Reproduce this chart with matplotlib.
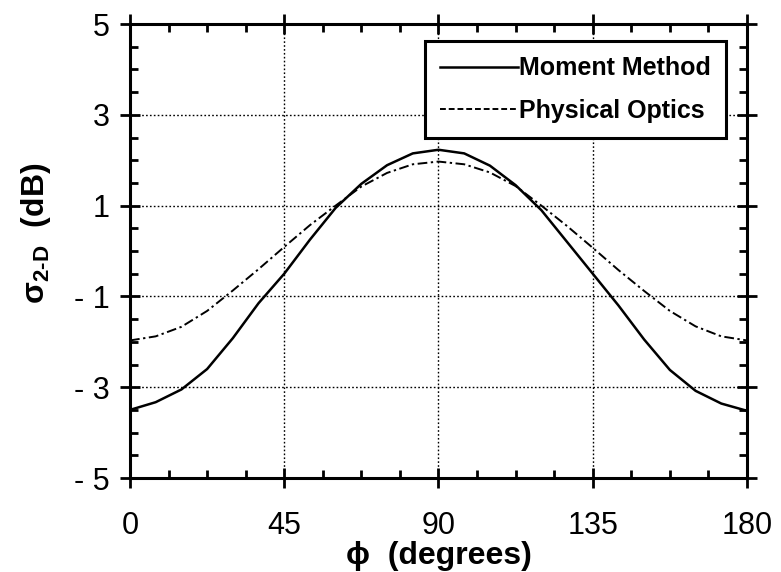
import numpy as np
import matplotlib
matplotlib.use("Agg")
import matplotlib.pyplot as plt
from matplotlib.lines import Line2D
from matplotlib.ticker import MultipleLocator

plt.rcParams['font.family'] = ['Liberation Sans', 'DejaVu Sans']
plt.rcParams['mathtext.fontset'] = 'custom'
plt.rcParams['mathtext.rm'] = 'Liberation Sans:bold'
plt.rcParams['mathtext.bf'] = 'Liberation Sans:bold'
plt.rcParams['mathtext.it'] = 'Liberation Sans:bold'

# angle in degrees
phi = [0, 7.5, 15, 22.5, 30, 37.5, 45, 52.5, 60, 67.5, 75, 82.5, 90,
       97.5, 105, 112.5, 120, 127.5, 135, 142.5, 150, 157.5, 165, 172.5, 180]

moment_method = [-3.50, -3.33, -3.05, -2.60, -1.92, -1.15, -0.50, 0.25, 0.95,
                 1.48, 1.89, 2.15, 2.23,
                 2.15, 1.88, 1.45, 0.90, 0.20, -0.50, -1.20, -1.95, -2.62,
                 -3.08, -3.36, -3.52]

physical_optics = [-1.97, -1.88, -1.67, -1.32, -0.87, -0.40, 0.09, 0.57, 1.00,
                   1.42, 1.72, 1.91, 1.97,
                   1.91, 1.73, 1.43, 1.00, 0.55, 0.07, -0.42, -0.88, -1.32,
                   -1.66, -1.88, -1.97]

x_ticks = [0, 45, 90, 135, 180]
x_tick_labels = ["0", "45", "90", "135", "180"]
y_ticks = [-5, -3, -1, 1, 3, 5]
y_tick_labels = ["- 5", "- 3", "- 1", "1", "3", "5"]

PO_STYLE = (0, (5, 1.8, 1.2, 1.8))

fig = plt.figure(figsize=(7.81, 5.72), dpi=100)
ax = fig.add_axes([130 / 781, 1 - 478 / 572, 617 / 781, 454 / 572])

ax.plot(phi, moment_method, color='black', lw=1.8)
ax.plot(phi, physical_optics, color='black', lw=1.4, linestyle=PO_STYLE)

ax.set_xlim(0, 180)
ax.set_ylim(-5, 5)
ax.set_xticks(x_ticks)
ax.set_xticklabels(x_tick_labels)
ax.set_yticks(y_ticks)
ax.set_yticklabels(y_tick_labels)
ax.xaxis.set_minor_locator(MultipleLocator(11.25))
ax.yaxis.set_minor_locator(MultipleLocator(0.5))

ax.grid(True, which='major', color='black', linestyle=(0, (1.2, 1.6)), lw=1.0)
for s in ax.spines.values():
    s.set_linewidth(2.2)

ax.tick_params(which='major', direction='inout', length=15, width=2,
               top=True, right=True, labelsize=22)
ax.tick_params(axis='x', which='major', pad=16)
ax.tick_params(axis='y', which='major', pad=7)
ax.tick_params(which='minor', direction='in', length=6, width=2,
               top=True, right=True)

ax.set_xlabel('ϕ  (degrees)', fontsize=23, fontweight='bold', labelpad=0)
ax.set_ylabel(r'σ$_{2\text{-}D}$  (dB)', fontsize=23, fontweight='bold')
ax.yaxis.set_label_coords(-0.125, 0.54)

handles = [Line2D([], [], color='black', lw=1.8),
           Line2D([], [], color='black', lw=1.4, linestyle=(0, (3, 1.5)))]
leg = ax.legend(handles, ['Moment Method', 'Physical Optics'],
                loc='upper right', bbox_to_anchor=(0.966, 0.962),
                borderaxespad=0, prop={'size': 18, 'weight': 'bold'},
                handlelength=3.1, handletextpad=0.05, fancybox=False,
                framealpha=1, borderpad=0.6, labelspacing=0.75)
leg.get_frame().set_edgecolor('black')
leg.get_frame().set_linewidth(2.2)

fig.savefig('out.png', dpi=100)
